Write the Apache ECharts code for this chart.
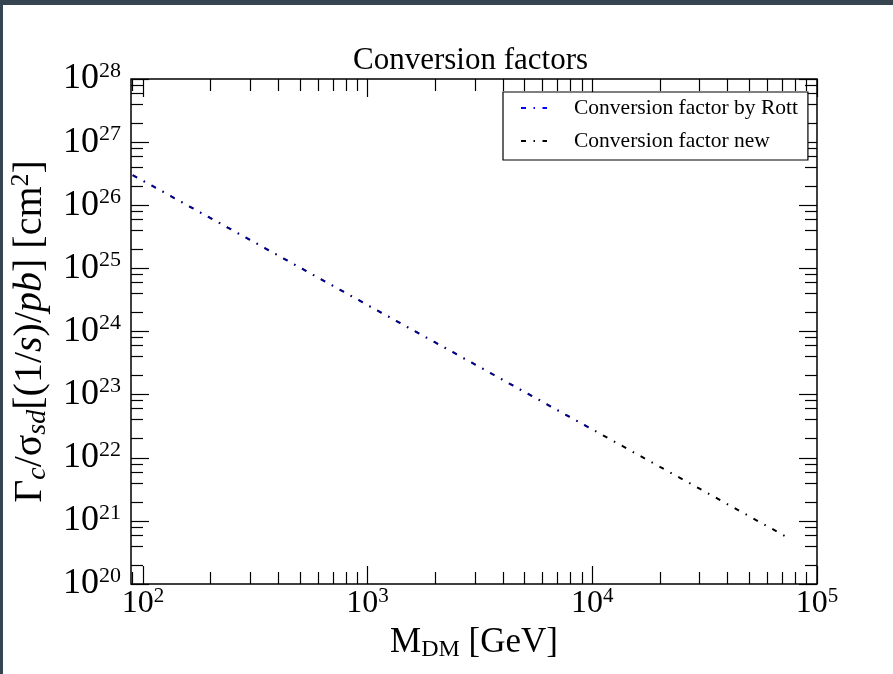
<!DOCTYPE html>
<html>
<head>
<meta charset="utf-8">
<script src="https://cdn.jsdelivr.net/npm/echarts@6/dist/echarts.min.js"></script>
<style>
  html, body { margin: 0; padding: 0; background: #fff; }
  #chart { width: 893px; height: 674px; }
</style>
</head>
<body>
<div id="chart"></div>
<script>
// masses in GeV, conversion factors in cm^2
const massRott = [90, 100, 200, 300, 500, 1000, 2000, 3000, 5000, 10000];
const factorRott = [3.0e26, 2.45e26, 6.25e25, 2.82e25, 1.03e25, 2.62e24, 6.7e23, 3.02e23, 1.1e23, 2.81e22];
const massNew = [90, 100, 200, 300, 500, 1000, 2000, 3000, 5000, 10000, 20000, 30000, 50000, 74000];
const factorNew = [3.0e26, 2.45e26, 6.25e25, 2.82e25, 1.03e25, 2.62e24, 6.7e23, 3.02e23, 1.1e23, 2.81e22, 7.18e21, 3.24e21, 1.18e21, 5.46e20];

const xMajorTicks = [1e2, 1e3, 1e4, 1e5];
const yMajorTicks = [1e20, 1e21, 1e22, 1e23, 1e24, 1e25, 1e26, 1e27, 1e28];
// minor tick multipliers inside one decade
const xMinorSteps = [2, 3, 4, 5, 6, 7, 8, 9];
const yMinorSteps = [2, 4, 6, 8];

const X_MIN = 88.5, X_MAX = 1e5;
const Y_MIN = 1e20, Y_MAX = 1e28;
const FONT = 'Liberation Serif';
const lg = Math.log10;

function minorTicks(lo, hi, steps) {
  const out = [];
  for (let e = Math.floor(lg(lo)); e < Math.ceil(lg(hi)); e++) {
    steps.forEach(k => {
      const v = k * Math.pow(10, e);
      if (v > lo && v < hi) out.push(lg(v));
    });
  }
  return out;
}

function powRich(base, sup, lh) {
  return {
    b: { fontFamily: FONT, fontSize: base, color: '#000', lineHeight: lh },
    s: { fontFamily: FONT, fontSize: sup, color: '#000', verticalAlign: 'top', lineHeight: lh, padding: [0, 0, 12, 0] }
  };
}

function tickAxis(pos, lo, hi, ticks, len, withLabels, extra) {
  const ax = {
    type: 'value',
    position: pos,
    min: lg(lo),
    max: lg(hi),
    silent: true,
    axisLine: { show: false },
    splitLine: { show: false },
    axisTick: {
      show: true, inside: true, length: len, customValues: ticks,
      lineStyle: { color: '#000', width: 1.2 }
    },
    axisLabel: { show: false }
  };
  if (withLabels) {
    const isY = pos === 'left';
    ax.axisLabel = {
      show: true,
      customValues: ticks,
      formatter: v => '{b|10}{s|' + Math.round(v) + '}',
      rich: isY ? powRich(36, 22, 38) : powRich(32, 21, 36),
      margin: isY ? 10 : 2
    };
  }
  return Object.assign(ax, extra || {});
}

const xMaj = xMajorTicks.map(lg);
const yMaj = yMajorTicks.map(lg);
const xMin = minorTicks(X_MIN, X_MAX, xMinorSteps);
const yMin = minorTicks(Y_MIN, Y_MAX, yMinorSteps);

const chart = echarts.init(document.getElementById('chart'));

const dash = [5, 7.5, 1.5, 7.5];

const option = {
  backgroundColor: '#fff',
  animation: false,
  graphic: [
    { type: 'rect', left: 0, top: 0, shape: { width: 893, height: 5 }, style: { fill: '#36454f' }, z: 100 },
    { type: 'rect', left: 0, top: 0, shape: { width: 3, height: 674 }, style: { fill: '#36454f' }, z: 100 }
  ],
  title: {
    text: 'Conversion factors',
    left: 353,
    top: 45,
    padding: 0,
    textStyle: { fontFamily: FONT, fontSize: 31, fontWeight: 'normal', color: '#000' }
  },
  legend: {
    orient: 'vertical',
    left: 503,
    top: 92,
    padding: [5, 10, 8, 17],
    itemGap: 11,
    itemWidth: 26,
    itemHeight: 14,
    itemStyle: { opacity: 0 },
    borderColor: '#000',
    borderWidth: 1.2,
    backgroundColor: '#fff',
    formatter: name => '{t|' + name + '}',
    textStyle: {
      fontFamily: FONT, fontSize: 21.5, color: '#000',
      rich: { t: { fontFamily: FONT, fontSize: 21.5, color: '#000', lineHeight: 24, padding: [0, 0, 0, 22] } }
    },
    data: [
      { name: 'Conversion factor by Rott', lineStyle: { opacity: 1 } },
      { name: 'Conversion factor new' }
    ]
  },
  grid: {
    left: 130, right: 76, top: 79, bottom: 90,
    show: true, borderColor: '#000', borderWidth: 1.5, backgroundColor: 'transparent'
  },
  xAxis: [
    { type: 'log', min: X_MIN, max: X_MAX, show: false },
    tickAxis('bottom', X_MIN, X_MAX, xMaj, 18, true, {
      name: '{n|M}{sub|DM}{n| [GeV]}',
      nameLocation: 'middle',
      nameGap: 34,
      nameTextStyle: {
        rich: {
          n: { fontFamily: FONT, fontSize: 35, color: '#000', lineHeight: 38 },
          sub: { fontFamily: FONT, fontSize: 24, color: '#000', verticalAlign: 'bottom', lineHeight: 38, padding: [10, 0, 0, 0] }
        }
      }
    }),
    tickAxis('bottom', X_MIN, X_MAX, xMin, 12, false),
    tickAxis('top', X_MIN, X_MAX, xMaj, 18, false),
    tickAxis('top', X_MIN, X_MAX, xMin, 12, false)
  ],
  yAxis: [
    { type: 'log', min: Y_MIN, max: Y_MAX, show: false },
    tickAxis('left', Y_MIN, Y_MAX, yMaj, 18, true, {
      name: '{n|Γ}{sub|c}{n|/σ}{sub|sd}{n|[(1/}{i|s}{n|)/}{i|pb}{n|] [cm}{sup|2}{n|]}',
      nameLocation: 'middle',
      nameRotate: 90,
      nameGap: 79,
      nameTextStyle: {
        rich: {
          n: { fontFamily: FONT, fontSize: 40, color: '#000', lineHeight: 44 },
          i: { fontFamily: FONT, fontSize: 40, fontStyle: 'italic', color: '#000', lineHeight: 44 },
          sub: { fontFamily: FONT, fontSize: 28, fontStyle: 'italic', color: '#000', verticalAlign: 'bottom', lineHeight: 44, padding: [12, 0, 0, 0] },
          sup: { fontFamily: FONT, fontSize: 26, color: '#000', verticalAlign: 'top', lineHeight: 44, padding: [0, 0, 12, 0] }
        }
      }
    }),
    tickAxis('left', Y_MIN, Y_MAX, yMin, 12, false),
    tickAxis('right', Y_MIN, Y_MAX, yMaj, 18, false),
    tickAxis('right', Y_MIN, Y_MAX, yMin, 12, false)
  ],
  series: [
    {
      name: 'Conversion factor by Rott',
      type: 'line',
      xAxisIndex: 0,
      yAxisIndex: 0,
      symbol: 'none',
      z: 3,
      color: '#0000ff',
      lineStyle: { color: '#0000ff', width: 2, type: dash, opacity: 0.55 },
      data: massRott.map((m, i) => [m, factorRott[i]])
    },
    {
      name: 'Conversion factor new',
      type: 'line',
      xAxisIndex: 0,
      yAxisIndex: 0,
      symbol: 'none',
      z: 2,
      color: '#000',
      lineStyle: { color: '#000', width: 2, type: dash },
      data: massNew.map((m, i) => [m, factorNew[i]])
    }
  ]
};

chart.setOption(option);
</script>
</body>
</html>
